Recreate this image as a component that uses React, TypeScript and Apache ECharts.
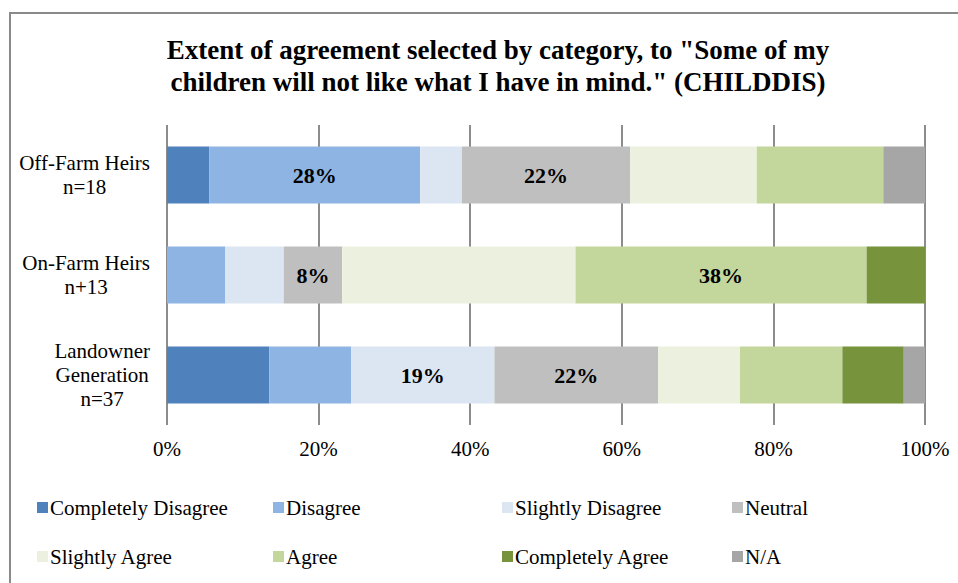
import React, { useEffect, useRef } from "react";
import * as echarts from "echarts";

const categories = ["Off-Farm Heirs\nn=18", "On-Farm Heirs\nn+13", "Landowner\nGeneration\nn=37"];
const seriesNames = [
  "Completely Disagree",
  "Disagree",
  "Slightly Disagree",
  "Neutral",
  "Slightly Agree",
  "Agree",
  "Completely Agree",
  "N/A",
];
const completelyDisagree = [5.6, 0, 13.5];
const disagree = [27.8, 7.7, 10.8];
const slightlyDisagree = [5.5, 7.7, 18.9];
const neutral = [22.2, 7.7, 21.6];
const slightlyAgree = [16.7, 30.8, 10.8];
const agree = [16.7, 38.4, 13.5];
const completelyAgree = [0, 7.7, 8.1];
const notApplicable = [5.5, 0, 2.8];
const seriesValues = [
  completelyDisagree,
  disagree,
  slightlyDisagree,
  neutral,
  slightlyAgree,
  agree,
  completelyAgree,
  notApplicable,
];
// [series index, category index] of the segments that carry a value label
const labeledCells = [
  [1, 0],
  [3, 0],
  [3, 1],
  [5, 1],
  [2, 2],
  [3, 2],
];
const xTicks = [0, 20, 40, 60, 80, 100];
const colors = ["#4F81BD", "#8EB4E3", "#DCE6F2", "#BFBFBF", "#EBF1DE", "#C3D69B", "#77933C", "#A6A6A6"];

const FONT = '"Liberation Serif", "Times New Roman", serif';

export default function App() {
  const ref = useRef<HTMLDivElement>(null);
  useEffect(() => {
    if (!ref.current) return;
    const chart = echarts.init(ref.current, null, { renderer: "svg" });
    const legendLeft = [37, 273, 502, 732];
    const legends = seriesNames.map((name, i) => ({
      data: [name],
      left: legendLeft[i % 4],
      top: i < 4 ? 497 : 546,
      orient: "horizontal",
      itemWidth: 11,
      itemHeight: 11,
      padding: 0,
      icon: "rect",
      textStyle: { fontFamily: FONT, fontSize: 21, color: "#000", padding: [0, 0, 0, -3] },
      selectedMode: false,
    }));
    chart.setOption({
      animation: false,
      backgroundColor: "#fff",
      textStyle: { fontFamily: FONT },
      title: {
        text: 'Extent of agreement selected by category, to "Some of my\nchildren will not like what I have in mind." (CHILDDIS)',
        left: 498,
        top: 34,
        textAlign: "center",
        padding: 0,
        textStyle: {
          fontFamily: FONT,
          fontWeight: "bold",
          fontSize: 27,
          lineHeight: 32,
          color: "#000",
        },
      },
      graphic: [
        {
          type: "polyline",
          shape: { points: [[10, 600], [10, 13], [960, 13]] },
          style: { stroke: "#8a8a8a", lineWidth: 2, fill: "none" },
          silent: true,
        },
      ],
      legend: legends,
      grid: { left: 167, right: 33, top: 125, height: 300 },
      xAxis: {
        type: "value",
        min: 0,
        max: 100,
        interval: 20,
        axisLine: { show: false },
        axisTick: { show: false },
        splitLine: { show: true, lineStyle: { color: "#8c8c8c", width: 2 } },
        axisLabel: {
          formatter: (v: number) => (xTicks.includes(v) ? v + "%" : ""),
          fontFamily: FONT,
          fontSize: 21,
          color: "#000",
          margin: 13,
        },
      },
      yAxis: {
        type: "category",
        inverse: true,
        data: categories,
        axisLine: { show: false },
        axisTick: { show: false },
        axisLabel: {
          align: "right",
          margin: 17,
          fontFamily: FONT,
          fontSize: 21,
          lineHeight: 24,
          color: "#000",
          formatter: (v: string) =>
            v
              .split("\n")
              .map((s) => "{c|" + s + "}")
              .join("\n"),
          rich: {
            c: { align: "center", fontFamily: FONT, fontSize: 21, lineHeight: 24, color: "#000" },
          },
        },
      },
      series: seriesNames.map((name, si) => ({
        name,
        type: "bar",
        stack: "total",
        barWidth: 57,
        itemStyle: { color: colors[si] },
        data: seriesValues[si].map((v, ci) => {
          const shown = labeledCells.some(([s, c]) => s === si && c === ci);
          return {
            value: v,
            label: {
              show: shown,
              position: "inside",
              formatter: Math.round(v) + "%",
              fontFamily: FONT,
              fontWeight: "bold",
              fontSize: 22,
              color: "#000",
            },
          };
        }),
      })),
    });
    return () => chart.dispose();
  }, []);
  return (
    <div
      ref={ref}
      style={{ position: "absolute", left: 0, top: 0, width: 958, height: 583 }}
    />
  );
}
